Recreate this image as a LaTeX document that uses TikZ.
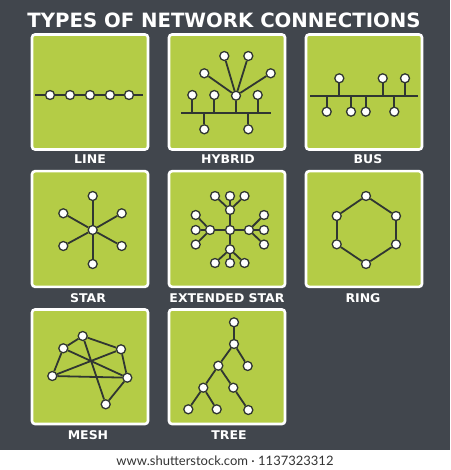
\documentclass[tikz,border=0pt]{standalone}
\usepackage{fontspec}
\newfontfamily\tfont{DejaVu Sans}
\newfontfamily\wfont{Lato}
\definecolor{bgc}{RGB}{65,70,77}
\definecolor{grn}{RGB}{180,204,70}
\definecolor{lnc}{RGB}{48,54,50}
\begin{document}
\begin{tikzpicture}[x=1pt,y=-1pt,
  panel/.style={draw=white,line width=2.6pt,fill=grn,rounded corners=3pt},
  nd/.style={circle,draw=lnc,fill=white,line width=1.3pt,minimum size=9pt,inner sep=0pt},
  ln/.style={draw=lnc,line width=1.8pt},
  lbl/.style={text=white,font=\tfont\bfseries\fontsize{12}{12}\selectfont,inner sep=0pt,xscale=1.04},
]
\fill[bgc] (0,0) rectangle (450,450);
\fill[white] (0,450) rectangle (450,470);
\useasboundingbox (0,0) rectangle (450,470);

\node[text=white,font=\tfont\bfseries\fontsize{19.7}{20}\selectfont,inner sep=0pt] (title) at (224,20) {TYPES OF NETWORK CONNECTIONS};

% panels
\path[panel] (32,34.5) rectangle (148,149.5);
\path[panel] (169,34.5) rectangle (285,149.5);
\path[panel] (306,34.5) rectangle (422,149.5);
\path[panel] (32,171.2) rectangle (148,286.8);
\path[panel] (169,171.2) rectangle (285,286.8);
\path[panel] (306,171.2) rectangle (422,286.8);
\path[panel] (32,309.5) rectangle (148,424);
\path[panel] (169,309.5) rectangle (285,424);

% labels
\node[lbl] (tline) at (90,158.7) {LINE};
\node[lbl] (thyb) at (228,158.7) {HYBRID};
\node[lbl] (tbus) at (368,158.7) {BUS};
\node[lbl] (tstar) at (88,298) {STAR};
\node[lbl] (text) at (227,298) {EXTENDED STAR};
\node[lbl] (tring) at (363,298) {RING};
\node[lbl] (tmesh) at (88,435.5) {MESH};
\node[lbl] (ttree) at (229,435.5) {TREE};

% LINE
\coordinate (lA) at (35,95);
\coordinate (lB) at (143,95);
\draw[ln] (lA) -- (lB);
\foreach \i/\x in {1/50,2/70,3/90,4/110,5/129}{\node[nd] (l\i) at (\x,95) {};}

% HYBRID
\coordinate (hA) at (181,112.7);
\coordinate (hB) at (271,112.7);
\draw[ln] (hA) -- (hB);
\node[nd] (h1) at (192.3,95) {};
\node[nd] (h2) at (214.3,95) {};
\node[nd] (h3) at (236,95.7) {};
\node[nd] (h4) at (257.7,95) {};
\node[nd] (h5) at (204.3,129.3) {};
\node[nd] (h6) at (248.3,129.3) {};
\node[nd] (h7) at (204.3,73.3) {};
\node[nd] (h8) at (224.3,56) {};
\node[nd] (h9) at (248.3,56) {};
\node[nd] (h10) at (270.7,73.3) {};
\foreach \n in {h1,h2,h3,h4,h5,h6}{\draw[ln] (\n) -- (\n |- hA);}
\foreach \n in {h7,h8,h9,h10}{\draw[ln] (h3) -- (\n);}

% BUS
\coordinate (bA) at (310,95.7);
\coordinate (bB) at (417.7,95.7);
\draw[ln] (bA) -- (bB);
\node[nd] (b1) at (339.3,78.3) {};
\node[nd] (b2) at (382.7,78.3) {};
\node[nd] (b3) at (405,78.3) {};
\node[nd] (b4) at (326.7,111.7) {};
\node[nd] (b5) at (351,111.7) {};
\node[nd] (b6) at (365.7,111.7) {};
\node[nd] (b7) at (394.3,111.7) {};
\foreach \n in {b1,b2,b3,b4,b5,b6,b7}{\draw[ln] (\n) -- (\n |- bA);}

% STAR
\node[nd] (s0) at (92.7,230) {};
\node[nd] (s1) at (92.7,196) {};
\node[nd] (s2) at (92.7,264) {};
\node[nd] (s3) at (63.3,213.3) {};
\node[nd] (s4) at (63.3,246) {};
\node[nd] (s5) at (121.7,213.3) {};
\node[nd] (s6) at (121.7,246) {};
\foreach \n in {s1,s2,s3,s4,s5,s6}{\draw[ln] (s0) -- (\n);}

% EXTENDED STAR
\node[nd] (e0) at (230,230) {};
\node[nd] (eL) at (210,230) {};
\node[nd] (eR) at (249,230) {};
\node[nd] (eT) at (230,210) {};
\node[nd] (eB) at (230,249.3) {};
\node[nd] (et1) at (215,196) {};
\node[nd] (et2) at (230,196) {};
\node[nd] (et3) at (244.5,196) {};
\node[nd] (eb1) at (215,263) {};
\node[nd] (eb2) at (230,263) {};
\node[nd] (eb3) at (244.5,263) {};
\node[nd] (el1) at (195.7,215) {};
\node[nd] (el2) at (195.7,230) {};
\node[nd] (el3) at (195.7,244.5) {};
\node[nd] (er1) at (264,215) {};
\node[nd] (er2) at (264,230) {};
\node[nd] (er3) at (264,244.5) {};
\foreach \n in {eL,eR,eT,eB}{\draw[ln] (e0) -- (\n);}
\foreach \n in {et1,et2,et3}{\draw[ln] (eT) -- (\n);}
\foreach \n in {eb1,eb2,eb3}{\draw[ln] (eB) -- (\n);}
\foreach \n in {el1,el2,el3}{\draw[ln] (eL) -- (\n);}
\foreach \n in {er1,er2,er3}{\draw[ln] (eR) -- (\n);}

% RING
\node[nd] (r1) at (366,196) {};
\node[nd] (r2) at (396,216) {};
\node[nd] (r3) at (396,244.3) {};
\node[nd] (r4) at (366,264) {};
\node[nd] (r5) at (336.7,244.3) {};
\node[nd] (r6) at (336.7,216) {};
\draw[ln] (r1) -- (r2);
\draw[ln] (r2) -- (r3);
\draw[ln] (r3) -- (r4);
\draw[ln] (r4) -- (r5);
\draw[ln] (r5) -- (r6);
\draw[ln] (r6) -- (r1);

% MESH
\node[nd] (mA) at (82.7,336) {};
\node[nd] (mB) at (63.3,348.3) {};
\node[nd] (mC) at (121,349.3) {};
\node[nd] (mD) at (52.3,376) {};
\node[nd] (mE) at (127.3,377.7) {};
\node[nd] (mF) at (105.7,404.3) {};
\draw[ln] (mA) -- (mB);
\draw[ln] (mA) -- (mC);
\draw[ln] (mA) -- (mF);
\draw[ln] (mB) -- (mD);
\draw[ln] (mB) -- (mE);
\draw[ln] (mD) -- (mC);
\draw[ln] (mD) -- (mE);
\draw[ln] (mC) -- (mE);
\draw[ln] (mE) -- (mF);

% TREE
\node[nd] (t1) at (234,322.3) {};
\node[nd] (t2) at (234,344) {};
\node[nd] (t3) at (218.3,365.7) {};
\node[nd] (t4) at (247.7,366) {};
\node[nd] (t5) at (203.3,387.7) {};
\node[nd] (t6) at (233.3,387.7) {};
\node[nd] (t7) at (188.3,409.3) {};
\node[nd] (t8) at (216.7,409.3) {};
\node[nd] (t9) at (248.3,410) {};
\draw[ln] (t1) -- (t2);
\draw[ln] (t2) -- (t3);
\draw[ln] (t2) -- (t4);
\draw[ln] (t3) -- (t5);
\draw[ln] (t3) -- (t6);
\draw[ln] (t5) -- (t7);
\draw[ln] (t5) -- (t8);
\draw[ln] (t6) -- (t9);

% footer
\node[text=black!80,font=\wfont\fontsize{13}{13}\selectfont,inner sep=0pt] (foot) at (225,460.5) {www.shutterstock.com · 1137323312};
\end{tikzpicture}
\end{document}
